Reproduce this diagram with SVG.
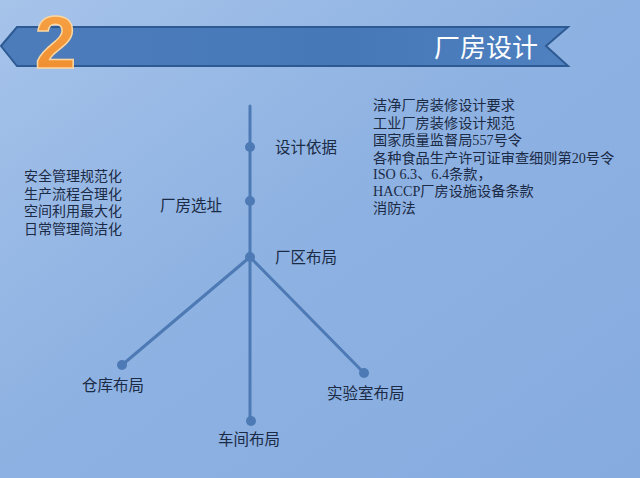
<svg xmlns="http://www.w3.org/2000/svg" width="640" height="478" viewBox="0 0 640 478">
<defs>
<linearGradient id="bg" x1="0" y1="0" x2="1" y2="1">
<stop offset="0" stop-color="#a6c3ea"/>
<stop offset="0.45" stop-color="#8eb2e2"/>
<stop offset="1" stop-color="#86abdf"/>
</linearGradient>
<linearGradient id="ban" x1="0" y1="0" x2="1" y2="0">
<stop offset="0" stop-color="#4d7cbb"/>
<stop offset="0.6" stop-color="#4678b8"/>
<stop offset="1" stop-color="#4f80c0"/>
</linearGradient>
<linearGradient id="org" x1="0" y1="0" x2="0" y2="1">
<stop offset="0" stop-color="#f7a548"/>
<stop offset="1" stop-color="#ee8a2c"/>
</linearGradient>
<style>
.ln{stroke:#4d7ab4;stroke-width:3;fill:none;stroke-linecap:round}
.dot{fill:#4d7ab4}
.lbl{font-family:"Noto Sans CJK SC",sans-serif;font-size:15.5px;fill:#1b2a45}
.lst{font-family:"Liberation Sans","Noto Sans CJK SC",sans-serif;font-size:14px;fill:#1b2a45}
.rst{font-family:"Liberation Serif","Noto Sans CJK SC",serif;font-size:14.2px;fill:#1b2a45}
</style>
</defs>
<rect width="640" height="478" fill="url(#bg)"/>
<g id="banner">
<polygon points="1,46 17,27 568,27 546,46 568,66 17,66" fill="url(#ban)" stroke="#2d5a93" stroke-width="2"/>
<text x="35" y="68" font-family="Liberation Sans, sans-serif" font-weight="bold" font-size="74" fill="url(#org)" stroke="#fbd6a0" stroke-width="1.5">2</text>
<text x="434" y="57" font-family="Noto Sans CJK SC, sans-serif" font-size="26" fill="#ffffff">厂房设计</text>
</g>
<g id="connectors">
<line class="ln" x1="250" y1="106" x2="250" y2="421"/>
<line class="ln" x1="250" y1="257" x2="122" y2="365"/>
<line class="ln" x1="250" y1="257" x2="364" y2="373"/>
</g>
<g id="node-design-basis">
<circle class="dot" cx="250" cy="147" r="5"/>
<text class="lbl" x="275" y="153">设计依据</text>
</g>
<g id="node-site">
<circle class="dot" cx="250" cy="201" r="5"/>
<text class="lbl" x="160" y="211">厂房选址</text>
</g>
<g id="node-layout">
<circle class="dot" cx="250" cy="257" r="5"/>
<text class="lbl" x="275" y="263">厂区布局</text>
</g>
<g id="node-warehouse">
<circle class="dot" cx="122" cy="365" r="5"/>
<text class="lbl" x="82" y="391">仓库布局</text>
</g>
<g id="node-workshop">
<circle class="dot" cx="251" cy="421" r="5"/>
<text class="lbl" x="218" y="445">车间布局</text>
</g>
<g id="node-lab">
<circle class="dot" cx="364" cy="373" r="5"/>
<text class="lbl" x="327" y="399">实验室布局</text>
</g>
<g id="left-list">
<text class="lst" x="24" y="181"><tspan x="24" y="181">安全管理规范化</tspan><tspan x="24" y="198.5">生产流程合理化</tspan><tspan x="24" y="216">空间利用最大化</tspan><tspan x="24" y="233.5">日常管理简洁化</tspan></text>
</g>
<g id="right-list">
<text class="rst" x="373" y="110"><tspan x="373" y="110">洁净厂房装修设计要求</tspan><tspan x="373" y="127.5">工业厂房装修设计规范</tspan><tspan x="373" y="145">国家质量监督局557号令</tspan><tspan x="373" y="162.5">各种食品生产许可证审查细则第20号令</tspan><tspan x="373" y="179">ISO 6.3、6.4条款，</tspan><tspan x="373" y="196">HACCP厂房设施设备条款</tspan><tspan x="373" y="212.5">消防法</tspan></text>
</g>
</svg>
